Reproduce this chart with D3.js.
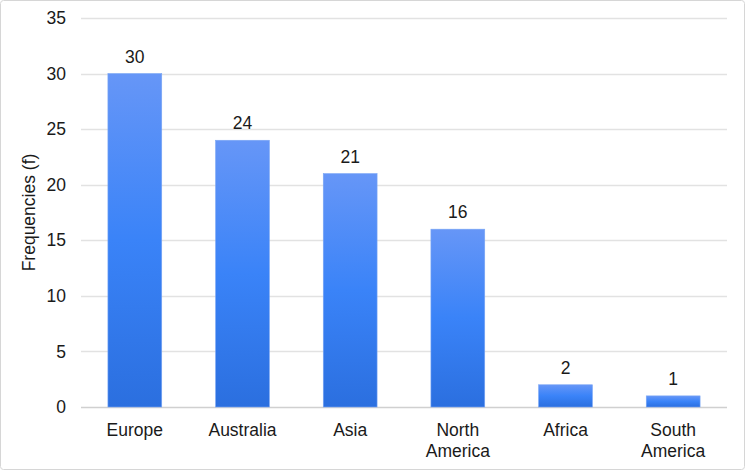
<!DOCTYPE html>
<html>
<head>
<meta charset="utf-8">
<script src="https://cdn.jsdelivr.net/npm/d3@7"></script>
<style>
  body { margin: 0; background: #fff; }
  text { font-family: "Liberation Sans", Arial, sans-serif; fill: #1a1a1a; }
</style>
</head>
<body>
<svg></svg>
<script>
var width = 745,
    height = 470

var continents = ["Europe", "Australia", "Asia", "North America", "Africa", "South America"]
var frequencies = [30, 24, 21, 16, 2, 1]
var yTicks = [0, 5, 10, 15, 20, 25, 30, 35]

var margin = {top: 18, right: 18, bottom: 63, left: 81}

var svg = d3.select("svg").attr("width", width).attr("height", height)

svg.append("rect")
  .attr("x", 0.5).attr("y", 0.5)
  .attr("width", width - 1).attr("height", height - 1)
  .attr("rx", 3)
  .attr("fill", "#fff")
  .attr("stroke", "#d6d6d6")

var grad = svg.append("defs").append("linearGradient")
  .attr("id", "barGrad")
  .attr("x1", 0).attr("y1", 0).attr("x2", 0).attr("y2", 1)
grad.append("stop").attr("offset", "0%").attr("stop-color", "#6696f7")
grad.append("stop").attr("offset", "50%").attr("stop-color", "#3a83f8")
grad.append("stop").attr("offset", "100%").attr("stop-color", "#2b6fdf")

var x = d3.scaleBand()
  .domain(continents)
  .range([margin.left, width - margin.right])
  .paddingInner(0.5)
  .paddingOuter(0.25)

var y = d3.scaleLinear()
  .domain([0, 35])
  .range([height - margin.bottom, margin.top])

// gridlines
svg.append("g")
  .selectAll("line")
  .data(yTicks)
  .enter().append("line")
  .attr("x1", margin.left)
  .attr("x2", width - margin.right)
  .attr("y1", function(d) { return Math.round(y(d)) + 0.5 })
  .attr("y2", function(d) { return Math.round(y(d)) + 0.5 })
  .attr("stroke", function(d) { return d === 0 ? "#d0d0d0" : "#e2e2e2" })
  .attr("stroke-width", 1.5)

// y tick labels
svg.append("g")
  .selectAll("text")
  .data(yTicks)
  .enter().append("text")
  .attr("x", 66)
  .attr("y", function(d) { return y(d) })
  .attr("dy", "0.35em")
  .attr("text-anchor", "end")
  .attr("font-size", 17.5)
  .text(function(d) { return d })

svg.append("text")
  .attr("transform", "translate(35," + y(17.5) + ") rotate(-90)")
  .attr("text-anchor", "middle")
  .attr("font-size", 17.5)
  .text("Frequencies (f)")

var data = continents.map(function(c, i) {
  return {name: c, value: frequencies[i]}
})

svg.append("g")
  .selectAll("rect")
  .data(data)
  .enter().append("rect")
  .attr("x", function(d) { return x(d.name) })
  .attr("width", x.bandwidth())
  .attr("y", function(d) { return y(d.value) })
  .attr("height", function(d) { return y(0) - y(d.value) })
  .attr("fill", "url(#barGrad)")
  .attr("stroke", "#7aa6f5")
  .attr("stroke-width", 0.6)

svg.append("g")
  .selectAll("text")
  .data(data)
  .enter().append("text")
  .attr("x", function(d) { return x(d.name) + x.bandwidth() / 2 })
  .attr("y", function(d) { return y(d.value) - 11 })
  .attr("text-anchor", "middle")
  .attr("font-size", 17.5)
  .text(function(d) { return d.value })

// category labels, wrapped on space for two-word names
var labels = svg.append("g")
  .selectAll("text")
  .data(continents)
  .enter().append("text")
  .attr("x", function(d) { return x(d) + x.bandwidth() / 2 })
  .attr("y", 436)
  .attr("text-anchor", "middle")
  .attr("font-size", 17.5)

labels.each(function(d) {
  var t = d3.select(this)
  var cx = x(d) + x.bandwidth() / 2
  d.split(" ").forEach(function(w, i) {
    t.append("tspan").attr("x", cx).attr("dy", i === 0 ? 0 : 20.5).text(w)
  })
})
</script>
</body>
</html>
